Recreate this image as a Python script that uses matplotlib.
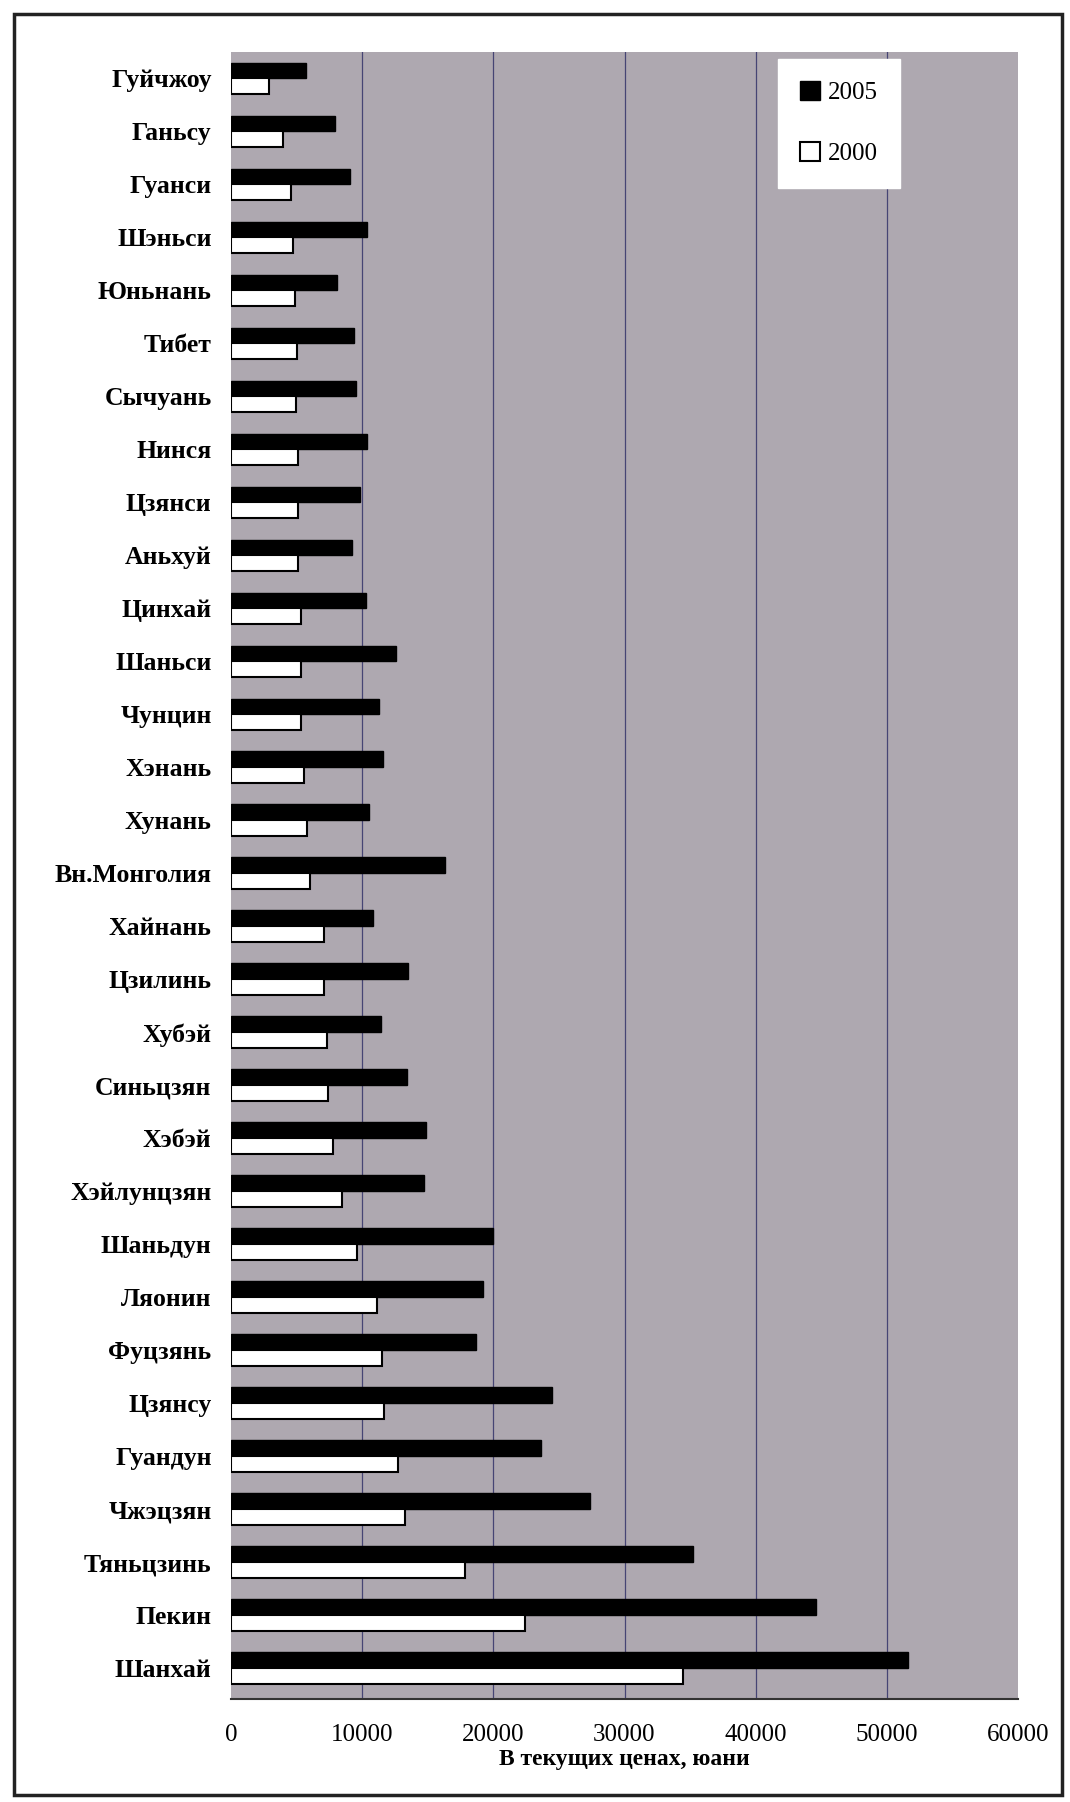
import matplotlib
matplotlib.use("Agg")
import matplotlib.pyplot as plt
import numpy as np
from matplotlib.patches import Rectangle

regions = ["Гуйчжоу", "Ганьсу", "Гуанси", "Шэньси", "Юньнань", "Тибет", "Сычуань",
           "Нинся", "Цзянси", "Аньхуй", "Цинхай", "Шаньси", "Чунцин", "Хэнань",
           "Хунань", "Вн.Монголия", "Хайнань", "Цзилинь", "Хубэй", "Синьцзян",
           "Хэбэй", "Хэйлунцзян", "Шаньдун", "Ляонин", "Фуцзянь", "Цзянсу",
           "Гуандун", "Чжэцзян", "Тяньцзинь", "Пекин", "Шанхай"]
v2005 = [5700, 7900, 9050, 10400, 8100, 9400, 9500, 10400, 9800, 9250, 10300,
         12600, 11300, 11600, 10500, 16300, 10800, 13500, 11400, 13400, 14850,
         14700, 20000, 19200, 18700, 24500, 23600, 27400, 35200, 44600, 51600]
v2000 = [2900, 3950, 4600, 4750, 4900, 5000, 4950, 5100, 5100, 5100, 5300,
         5300, 5300, 5600, 5800, 6000, 7100, 7100, 7300, 7400, 7800,
         8450, 9600, 11100, 11500, 11700, 12750, 13300, 17850, 22400, 34450]
xticks = [0, 10000, 20000, 30000, 40000, 50000, 60000]
series_labels = ["2005", "2000"]
xlabel = "В текущих ценах, юани"

plt.rcParams['font.family'] = ['Liberation Serif', 'DejaVu Serif']
plt.rcParams['hatch.color'] = '#77728a'
plt.rcParams['hatch.linewidth'] = 1.2

W, H = 1070, 1802
fig = plt.figure(figsize=(W / 100, H / 100), dpi=100)
fig.patch.set_facecolor('white')

left, right = 231 / W, 1018 / W
bottom, top = 1 - 1699 / H, 1 - 52 / H
ax = fig.add_axes([left, bottom, right - left, top - bottom])

# hatched gray background
ax.set_facecolor('#aea8b0')
bg = Rectangle((0, 0), 1, 1, transform=ax.transAxes, facecolor='#aea8b0',
               edgecolor='none', hatch='//////', zorder=0)
ax.add_patch(bg)

y = np.arange(len(regions))
bh = 0.3
ax.barh(y - bh / 2, v2005, height=bh, color='black', edgecolor='black',
        linewidth=1, label=series_labels[0], zorder=3)
ax.barh(y + bh / 2, v2000, height=bh, color='white', edgecolor='black',
        linewidth=1.5, label=series_labels[1], zorder=3)

ax.set_xlim(0, 60000)
ax.set_ylim(len(regions) - 0.42, -0.5)
ax.set_xticks(xticks)
ax.set_xticklabels([str(t) for t in xticks], fontsize=18)
ax.set_yticks(y)
ax.set_yticklabels(regions, fontsize=18.5, fontweight='bold')
ax.tick_params(axis='y', length=0, pad=14)
ax.tick_params(axis='x', length=0, pad=18)
for t in xticks[1:-1]:
    ax.axvline(t, color='#34346a', linewidth=0.9, alpha=0.85, zorder=1)
for s in ['top', 'right', 'left']:
    ax.spines[s].set_visible(False)
ax.spines['bottom'].set_color('#333333')
ax.spines['bottom'].set_linewidth(1.5)
ax.set_xlabel(xlabel, fontsize=17, fontweight='bold', labelpad=2)

leg = ax.legend(loc='upper left', bbox_to_anchor=(0.695, 0.996), frameon=True,
                fancybox=False, fontsize=18, labelspacing=1.5, handlelength=0.8,
                handleheight=0.8, handletextpad=0.3, borderpad=0.9,
                borderaxespad=0)
leg.get_frame().set_facecolor('white')
leg.get_frame().set_edgecolor('white')
leg.get_frame().set_alpha(1)

# outer frame
fig.patches.append(Rectangle((14 / W, 1 - 1795 / H), (1062 - 14) / W, (1795 - 14) / H,
                             transform=fig.transFigure, fill=False,
                             edgecolor='#222222', linewidth=2.5))

fig.savefig('out.png', dpi=100)
